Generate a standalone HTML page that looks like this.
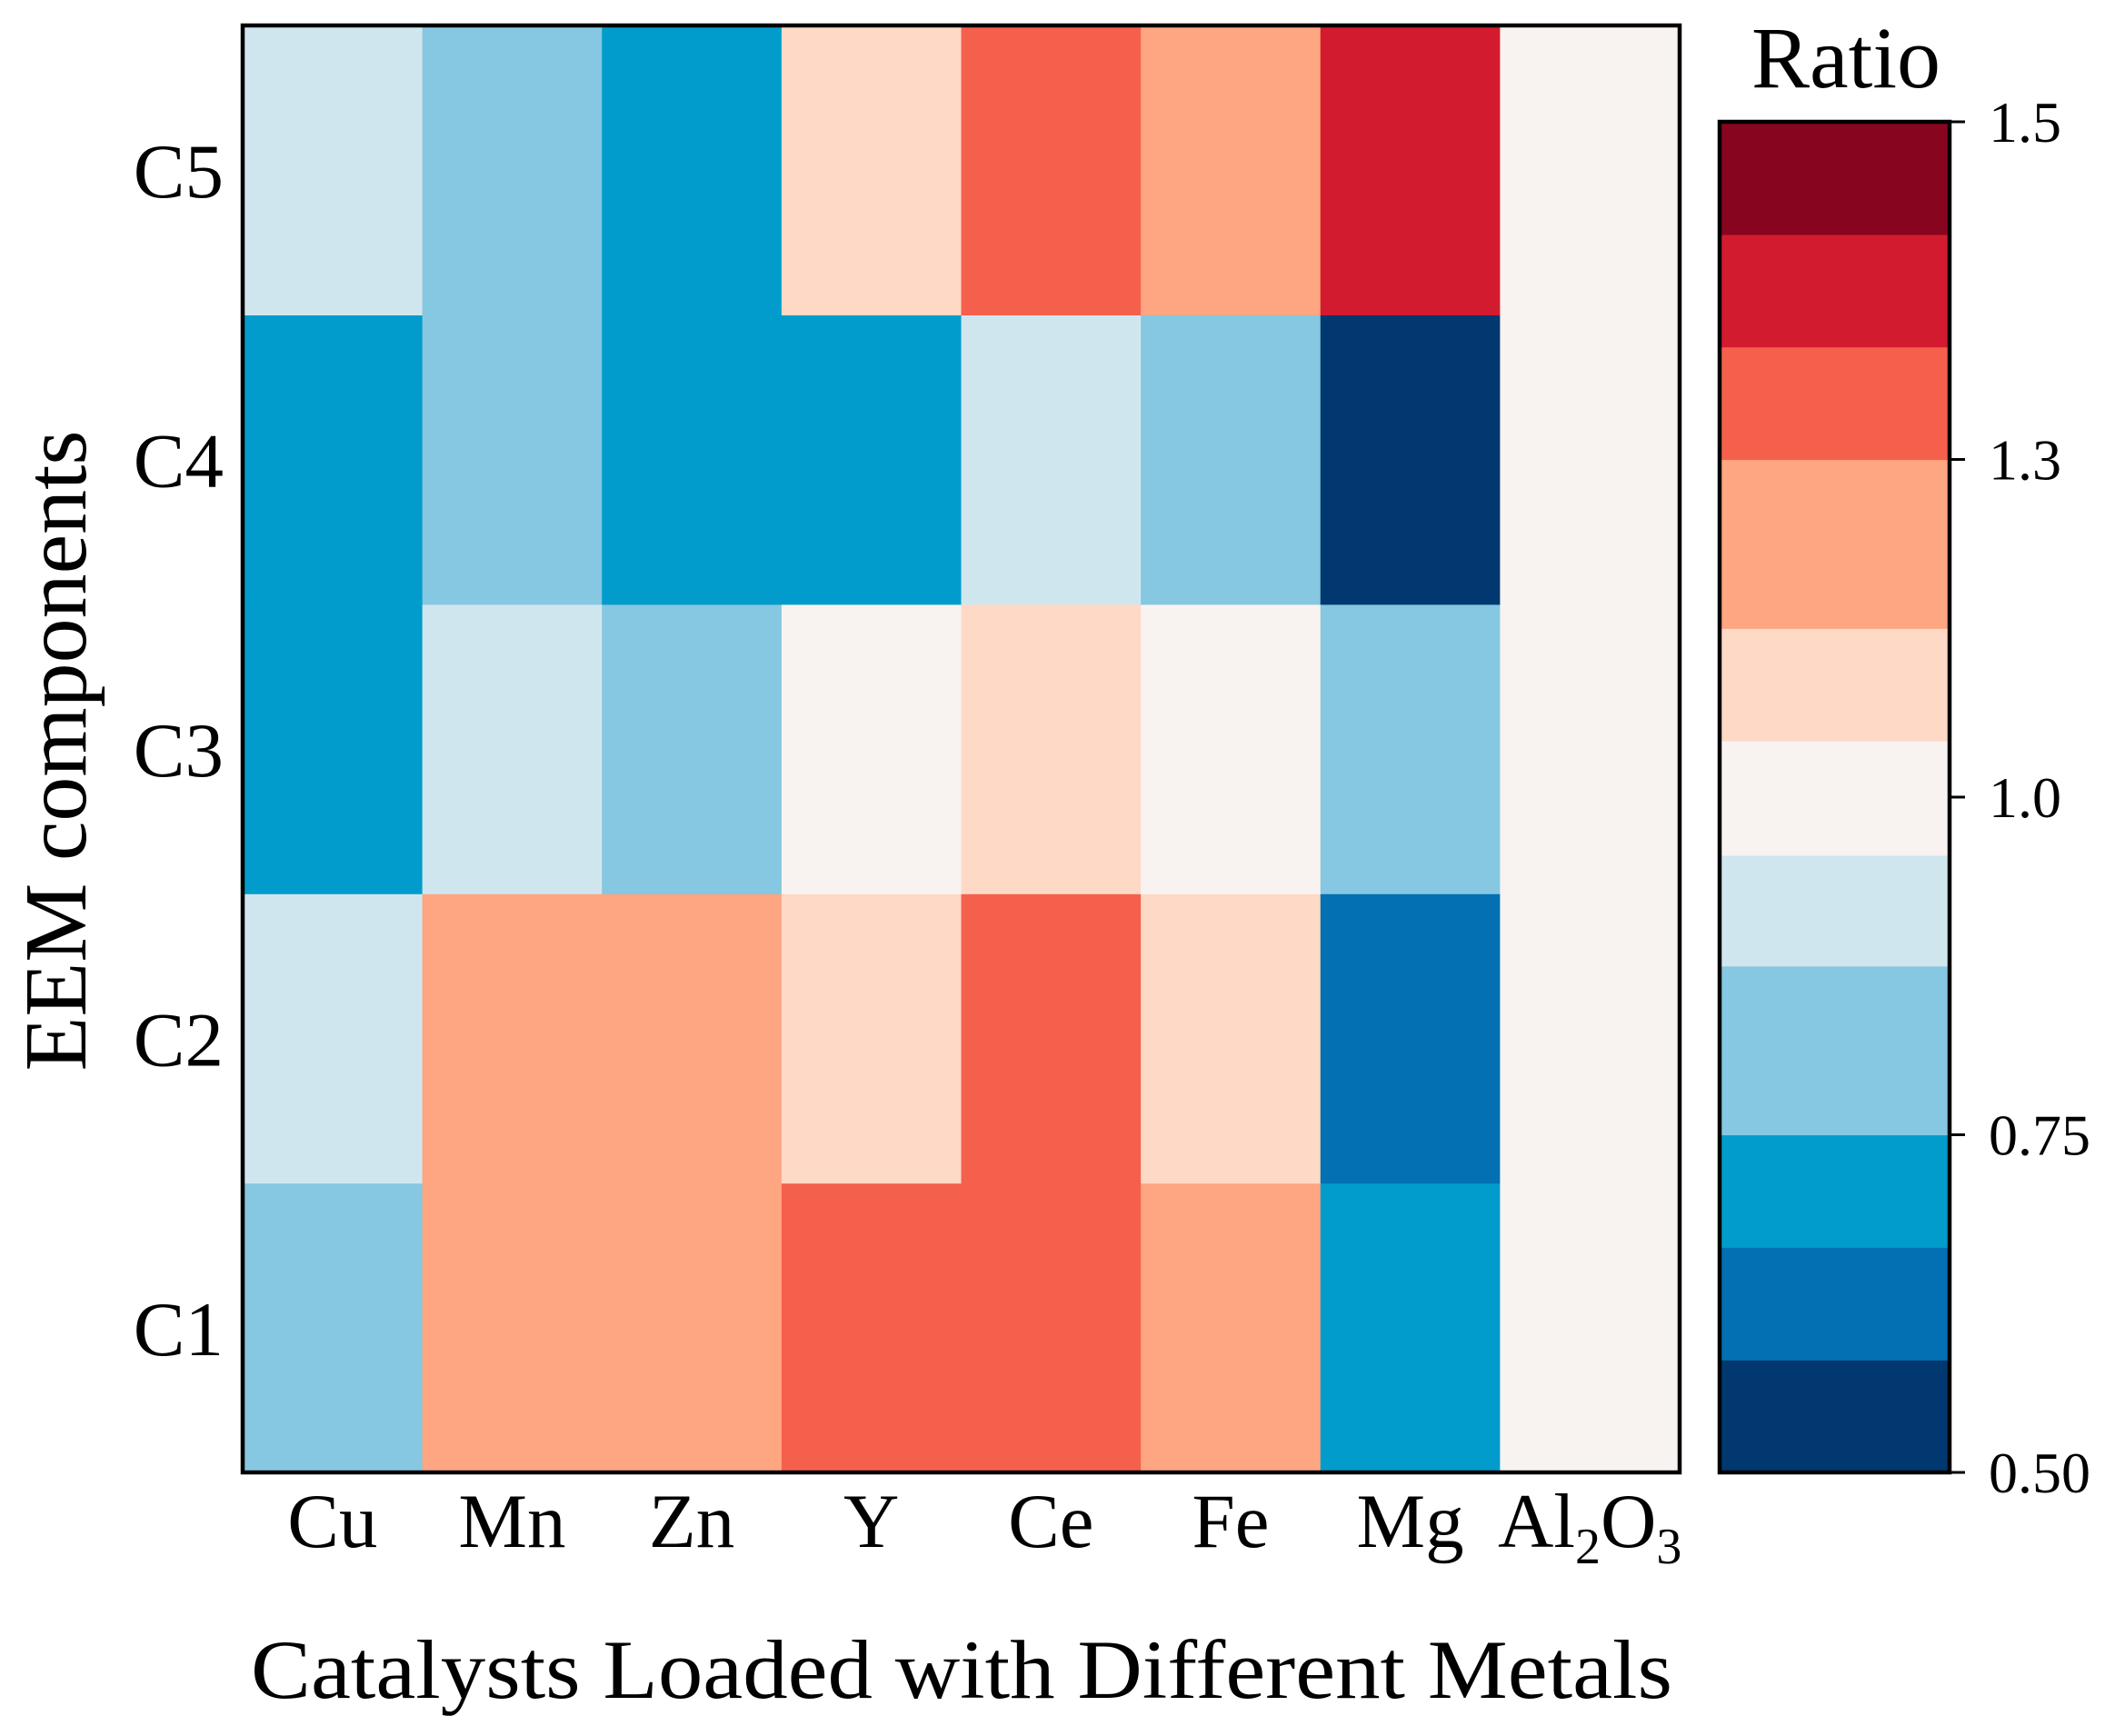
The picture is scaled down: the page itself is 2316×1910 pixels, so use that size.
<!DOCTYPE html>
<html><head><meta charset="utf-8"><style>
html,body{margin:0;padding:0;background:#fff;}
svg{display:block;font-family:"Liberation Serif",serif;}
</style></head><body>
<svg id="chart" width="2316" height="1910" viewBox="0 0 2316 1910" xmlns="http://www.w3.org/2000/svg">
<g id="cells"></g>
<rect x="267" y="28" width="1581" height="1592" fill="none" stroke="#000" stroke-width="4.5"/>
<g id="ylabels"></g>
<g id="xlabels"></g>
<text transform="translate(94,826) rotate(-90)" text-anchor="middle" font-size="98">EEM components</text>
<text x="1058" y="1868" text-anchor="middle" font-size="92" textLength="1564" lengthAdjust="spacingAndGlyphs">Catalysts Loaded with Different Metals</text>
<g id="cbar"></g>
<text x="2031" y="96" text-anchor="middle" font-size="96">Ratio</text>
</svg>
<script>
const categories = ["Cu","Mn","Zn","Y","Ce","Fe","Mg","Al2O3"];
const components = ["C1","C2","C3","C4","C5"];
const valuesC1 = [0.82,1.2,1.2,1.33,1.33,1.2,0.71,1.0];
const valuesC2 = [0.92,1.2,1.2,1.1,1.33,1.1,0.62,1.0];
const valuesC3 = [0.71,0.92,0.82,1.0,1.1,1.0,0.82,1.0];
const valuesC4 = [0.71,0.82,0.71,0.71,0.92,0.82,0.55,1.0];
const valuesC5 = [0.92,0.82,0.71,1.1,1.33,1.2,1.4,1.0];
const cbarTicks = [0.5,0.75,1.0,1.3,1.5];
const cbarTickLabels = ["0.50","0.75","1.0","1.3","1.5"];
const bandBounds = [0.5,0.5833,0.6667,0.75,0.875,0.957,1.05,1.15,1.3,1.3667,1.4333,1.5];
const bandColors = ["#00386f","#0270b3","#019ccb","#86c7e1","#d0e6ef","#f8f3f0","#fed9c5","#fea581","#f5604c","#d21b2e","#87051f"];
const rows = [valuesC1,valuesC2,valuesC3,valuesC4,valuesC5];

const NS="http://www.w3.org/2000/svg";
const PL=267,PR=1848,PT=28,PB=1620;
const cw=(PR-PL)/categories.length, rh=(PB-PT)/components.length;
function xPos(i){return PL+i*cw;}
function yPos(j){return PB-(j+1)*rh;}
function colorOf(v){for(let k=0;k<bandColors.length;k++){if(v<bandBounds[k+1]||k==bandColors.length-1)return bandColors[k];}}
const CT=134,CB=1620;
function cy(v){
  const n=cbarTicks.length-1, step=(CB-CT)/n;
  for(let k=0;k<n;k++){const a=cbarTicks[k],b=cbarTicks[k+1];
    if(v<=b||k==n-1){return CB-(k+(v-a)/(b-a))*step;}}
}
const cells=document.getElementById('cells');
rows.forEach((r,j)=>r.forEach((v,i)=>{
  const e=document.createElementNS(NS,'rect');
  e.setAttribute('x',xPos(i));e.setAttribute('y',yPos(j));
  e.setAttribute('width',cw+0.6);e.setAttribute('height',rh+0.6);
  e.setAttribute('fill',colorOf(v));
  
  
  cells.appendChild(e);
}));
const yl=document.getElementById('ylabels');
components.forEach((c,j)=>{
  const t=document.createElementNS(NS,'text');
  t.setAttribute('x',246);t.setAttribute('y',yPos(j)+rh/2+30);
  t.setAttribute('text-anchor','end');t.setAttribute('font-size','85');
  t.textContent=c;
  
  
  yl.appendChild(t);
});
const xl=document.getElementById('xlabels');
categories.forEach((c,i)=>{
  const t=document.createElementNS(NS,'text');
  t.setAttribute('x',xPos(i)+cw/2);t.setAttribute('y',1702);
  t.setAttribute('text-anchor','middle');t.setAttribute('font-size','85');
  if(c==="Al2O3"){
    t.innerHTML='Al<tspan font-size="56" dy="18">2</tspan><tspan dy="-18">O</tspan><tspan font-size="56" dy="18">3</tspan>';
  } else t.textContent=c;
  
  
  xl.appendChild(t);
});
const cb=document.getElementById('cbar');
const CL=1892,CR=2145;
bandColors.forEach((col,k)=>{
  const y1=cy(bandBounds[k+1]),y0=cy(bandBounds[k]);
  const e=document.createElementNS(NS,'rect');
  e.setAttribute('x',CL);e.setAttribute('y',y1);e.setAttribute('width',CR-CL);e.setAttribute('height',y0-y1+0.6);
  e.setAttribute('fill',col);
  
  
  cb.appendChild(e);
});
const bd=document.createElementNS(NS,'rect');
bd.setAttribute('x',CL);bd.setAttribute('y',CT);bd.setAttribute('width',CR-CL);bd.setAttribute('height',CB-CT);
bd.setAttribute('fill','none');bd.setAttribute('stroke','#000');bd.setAttribute('stroke-width','4.5');


cb.appendChild(bd);
cbarTicks.forEach((v,k)=>{
  const y=cy(v);
  const l=document.createElementNS(NS,'line');
  l.setAttribute('x1',CR);l.setAttribute('x2',CR+17);l.setAttribute('y1',y);l.setAttribute('y2',y);
  l.setAttribute('stroke','#000');l.setAttribute('stroke-width','3');
  
  
  cb.appendChild(l);
  const t=document.createElementNS(NS,'text');
  t.setAttribute('x',2188);t.setAttribute('y',y+22);t.setAttribute('font-size','64');
  t.textContent=cbarTickLabels[k];
  
  
  cb.appendChild(t);
});
</script>
</body></html>
